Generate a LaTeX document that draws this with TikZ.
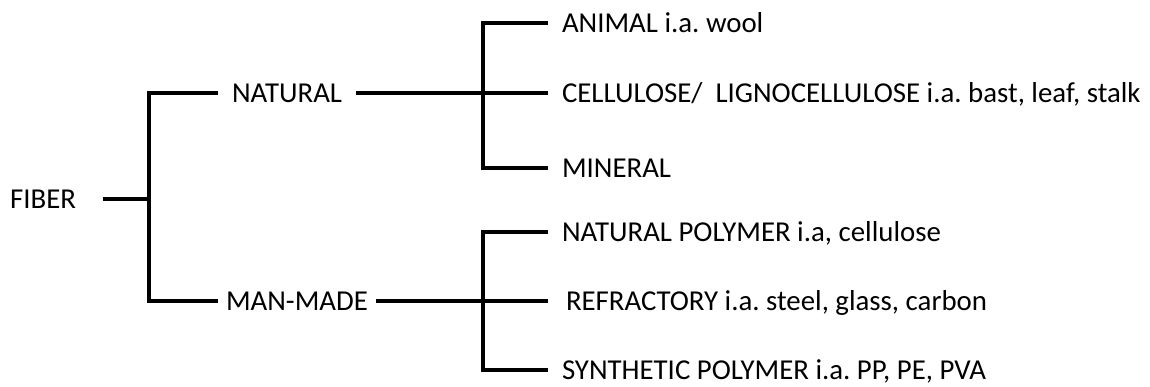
\documentclass[tikz,border=0pt]{standalone}
\usepackage{fontspec}
\setmainfont{Carlito}
\frenchspacing
\begin{document}
\begin{tikzpicture}[x=0.025cm,y=-0.025cm,line width=2.2pt,
	lbl/.style={inner sep=0pt,outer sep=0pt,outer xsep=0.35cm,anchor=west,
		text height=13.2pt,text depth=0pt,font=\fontsize{20.5}{24}\selectfont}]
	\useasboundingbox (0,0) rectangle (1150,387);
	\node[lbl,anchor=east,outer xsep=0.675cm] (fiber) at (103,199) {FIBER}; %root
	\coordinate (jf) at (149,199);
	\node[lbl] (natural) at (218,93) {NATURAL};
	\node[lbl,outer xsep=0.2cm] (manmade) at (218,301) {MAN-MADE};
	\coordinate (jn) at (483,93);
	\coordinate (jm) at (483,301);
	\foreach \nm/\yy/\txt in {animal/23/{ANIMAL i.a. wool},
		cellulose/93/{CELLULOSE/\ \ LIGNOCELLULOSE i.a. bast, leaf, stalk},
		mineral/168/{MINERAL},
		natpoly/232/{NATURAL POLYMER i.a, cellulose},
		synthetic/370/{SYNTHETIC POLYMER i.a. PP, PE, PVA}}{ %leaves
		\node[lbl] (\nm) at (548,\yy) {\txt};
	}
	\node[lbl,outer xsep=0.45cm] (refractory) at (548,301) {REFRACTORY i.a. steel, glass, carbon};
	\draw (fiber.east) -- (jf); %fiber
	\draw (natural.west) -| (jf) |- (manmade.west);
	\draw (natural.east) -- (jn) -- (cellulose.west); %natural
	\draw (animal.west) -| (jn) |- (mineral.west);
	\draw (manmade.east) -- (jm) -- (refractory.west); %man-made
	\draw (natpoly.west) -| (jm) |- (synthetic.west);
\end{tikzpicture}
\end{document}
